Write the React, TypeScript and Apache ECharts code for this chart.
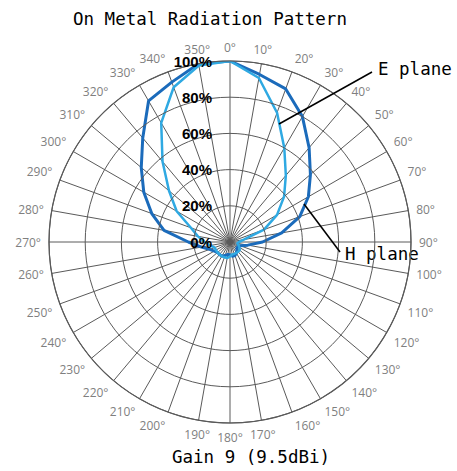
import React, { useEffect, useRef } from "react";
import * as echarts from "echarts";

const angles = [0, 10, 20, 30, 40, 50, 60, 70, 80, 90, 100, 110, 120, 130, 140, 150, 160, 170, 180, 190, 200, 210, 220, 230, 240, 250, 260, 270, 280, 290, 300, 310, 320, 330, 340, 350];
const hPlane = [100, 94, 90, 80, 68, 58, 50, 41, 29, 18, 10, 6, 5, 5, 6, 7, 8, 8, 7, 7, 8, 9, 9, 9, 10, 12, 16, 23, 37, 46, 55, 64, 75, 90, 94, 100];
const ePlane = [100, 92, 76, 60, 48, 39, 30, 20, 8, 5, 4, 5, 6, 7, 7, 7, 7, 7, 8, 9, 9, 9, 9, 9, 9, 9, 11, 14, 18, 23, 34, 44, 58, 76, 91, 99];
const radiusTicks = [0, 20, 40, 60, 80, 100];

const titleText = "On Metal Radiation Pattern";
const gainText = "Gain 9 (9.5dBi)";
const eLabel = "E plane";
const hLabel = "H plane";

function closeLoop(vals: number[]) {
  const d = angles.map((a, i) => [vals[i], a]);
  d.push([vals[0], 360]);
  return d;
}

export default function App() {
  const ref = useRef<HTMLDivElement>(null);
  useEffect(() => {
    if (!ref.current) return;
    const chart = echarts.init(ref.current, null, { renderer: "svg" });
    const mono = "DejaVu Sans Mono";
    chart.setOption({
      animation: false,
      backgroundColor: "#ffffff",
      polar: { center: [230, 242], radius: 181 },
      angleAxis: {
        type: "value",
        min: 0,
        max: 360,
        interval: 10,
        startAngle: 90,
        clockwise: true,
        axisLine: { show: true, lineStyle: { color: "#5a5a5a", width: 1.2 } },
        axisTick: { show: false },
        axisLabel: {
          show: true,
          margin: 8,
          color: "#7f7f7f",
          fontSize: 12,
          fontFamily: "Open Sans",
          formatter: (v: number) => (v === 360 ? "" : v + "°"),
        },
        splitLine: { show: true, lineStyle: { color: "#5a5a5a", width: 1 } },
      },
      radiusAxis: {
        type: "value",
        min: radiusTicks[0],
        max: radiusTicks[radiusTicks.length - 1],
        interval: 20,
        axisLine: { show: false },
        axisTick: { show: false },
        axisLabel: {
          show: true,
          margin: 18,
          color: "#000000",
          fontSize: 15,
          fontWeight: "bold",
          fontFamily: "Liberation Sans",
          formatter: "{value}%",
        },
        splitLine: { show: true, lineStyle: { color: "#5a5a5a", width: 1 } },
        z: 10,
      },
      series: [
        {
          name: "H plane",
          type: "line",
          coordinateSystem: "polar",
          data: closeLoop(hPlane),
          symbol: "none",
          lineStyle: { color: "#1b6bbb", width: 3 },
          z: 3,
        },
        {
          name: "E plane",
          type: "line",
          coordinateSystem: "polar",
          data: closeLoop(ePlane),
          symbol: "none",
          lineStyle: { color: "#2fa9e2", width: 2.5 },
          z: 4,
        },
      ],
      graphic: [
        {
          type: "text",
          left: 73,
          top: 10,
          style: { text: titleText, fontFamily: mono, fontSize: 17.5, fill: "#000" },
        },
        {
          type: "text",
          left: 172,
          top: 448,
          style: { text: gainText, fontFamily: mono, fontSize: 17.5, fill: "#000" },
        },
        {
          type: "text",
          left: 378,
          top: 60,
          style: { text: eLabel, fontFamily: mono, fontSize: 17.5, fill: "#000" },
        },
        {
          type: "text",
          left: 345,
          top: 245,
          style: { text: hLabel, fontFamily: mono, fontSize: 17.5, fill: "#000" },
        },
        {
          type: "line",
          shape: { x1: 372, y1: 72, x2: 279, y2: 124 },
          style: { stroke: "#000", lineWidth: 1.5 },
          z: 20,
        },
        {
          type: "line",
          shape: { x1: 304, y1: 204, x2: 340, y2: 252 },
          style: { stroke: "#000", lineWidth: 1.5 },
          z: 20,
        },
      ],
    });
    return () => chart.dispose();
  }, []);
  return (
    <div
      ref={ref}
      style={{ position: "fixed", left: 0, top: 0, width: 457, height: 471 }}
    />
  );
}
